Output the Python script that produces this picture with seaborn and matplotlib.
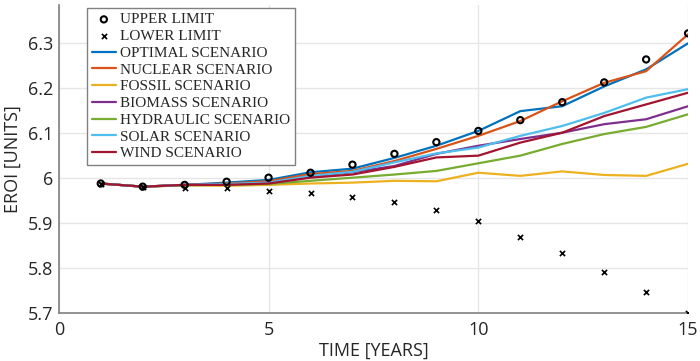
import numpy as np
import pandas as pd
import matplotlib
matplotlib.use('Agg')
import matplotlib.pyplot as plt
import seaborn as sns

years = list(range(1, 16))

upper_limit = [5.988, 5.981, 5.985, 5.992, 6.001, 6.012, 6.030, 6.054, 6.080,
               6.105, 6.129, 6.169, 6.213, 6.264, 6.322]
lower_limit = [5.988, 5.981, 5.979, 5.977, 5.972, 5.968, 5.959, 5.948, 5.930,
               5.904, 5.870, 5.833, 5.791, 5.746, 5.700]

optimal = [5.988, 5.981, 5.985, 5.990, 5.996, 6.013, 6.021, 6.045, 6.072,
           6.105, 6.149, 6.160, 6.204, 6.242, 6.300]
nuclear = [5.988, 5.981, 5.985, 5.988, 5.993, 6.009, 6.016, 6.038, 6.065,
           6.094, 6.127, 6.171, 6.212, 6.238, 6.320]
fossil = [5.988, 5.981, 5.984, 5.983, 5.985, 5.988, 5.990, 5.994, 5.993,
          6.012, 6.005, 6.015, 6.007, 6.005, 6.032]
biomass = [5.988, 5.981, 5.985, 5.986, 5.989, 6.004, 6.013, 6.027, 6.054,
           6.072, 6.087, 6.101, 6.120, 6.131, 6.160]
hydraulic = [5.988, 5.981, 5.984, 5.985, 5.987, 5.994, 6.001, 6.008, 6.016,
             6.033, 6.050, 6.076, 6.098, 6.114, 6.142]
solar = [5.988, 5.981, 5.985, 5.987, 5.990, 6.005, 6.014, 6.035, 6.055,
         6.068, 6.094, 6.116, 6.145, 6.179, 6.198]
wind = [5.988, 5.981, 5.985, 5.985, 5.988, 6.001, 6.008, 6.025, 6.046,
        6.050, 6.079, 6.101, 6.138, 6.164, 6.190]

scenarios = {
    "OPTIMAL SCENARIO": (optimal, "#0072BD"),
    "NUCLEAR SCENARIO": (nuclear, "#D95319"),
    "FOSSIL SCENARIO": (fossil, "#EDB120"),
    "BIOMASS SCENARIO": (biomass, "#7E2F8E"),
    "HYDRAULIC SCENARIO": (hydraulic, "#77AC30"),
    "SOLAR SCENARIO": (solar, "#4DBEEE"),
    "WIND SCENARIO": (wind, "#A2142F"),
}

sns.set_style("whitegrid")
plt.rcParams['font.family'] = ['Open Sans', 'DejaVu Sans']

fig = plt.figure(figsize=(7, 3.61), dpi=100)
ax = fig.add_axes([0.084, 0.133, 0.899, 0.853])

sns.scatterplot(x=years, y=upper_limit, ax=ax, marker='o', s=20,
                facecolor='none', edgecolor='black', linewidth=1.5,
                label="UPPER LIMIT", zorder=5)
sns.scatterplot(x=years, y=lower_limit, ax=ax, marker='x', s=14,
                color='black', linewidth=1.2, label="LOWER LIMIT", zorder=5)

for name, (vals, col) in scenarios.items():
    sns.lineplot(x=years, y=vals, ax=ax, color=col, linewidth=1.6, label=name)

ax.set_xlim(0, 15)
ax.set_ylim(5.7, 6.385)
ax.set_xticks([0, 5, 10, 15])
ax.set_yticks([5.7, 5.8, 5.9, 6.0, 6.1, 6.2, 6.3])
ax.set_yticklabels(["5.7", "5.8", "5.9", "6", "6.1", "6.2", "6.3"])
ax.tick_params(labelsize=13, length=0)
ax.tick_params(axis='x', pad=6)
ax.tick_params(axis='y', pad=4)
ax.grid(color='#e6e6e6', linewidth=1)
for s in ['top', 'right']:
    ax.spines[s].set_visible(False)
for s in ['left', 'bottom']:
    ax.spines[s].set_color('#808080')
    ax.spines[s].set_linewidth(1.2)

ax.set_xlabel("TIME [YEARS]", fontsize=13, labelpad=2)
ax.set_ylabel("EROI [UNITS]", fontsize=13, labelpad=4)

leg = ax.legend(loc='upper left', bbox_to_anchor=(0.04, 1.0),
                prop={'family': 'Liberation Serif', 'size': 11},
                frameon=True, fancybox=False, edgecolor='#808080',
                framealpha=1.0,
                labelspacing=0.2, handlelength=1.6, handletextpad=0.25,
                borderpad=0.3, borderaxespad=0.2)
leg.get_frame().set_linewidth(1.0)

fig.savefig("out.png", dpi=100)
plt.close()
